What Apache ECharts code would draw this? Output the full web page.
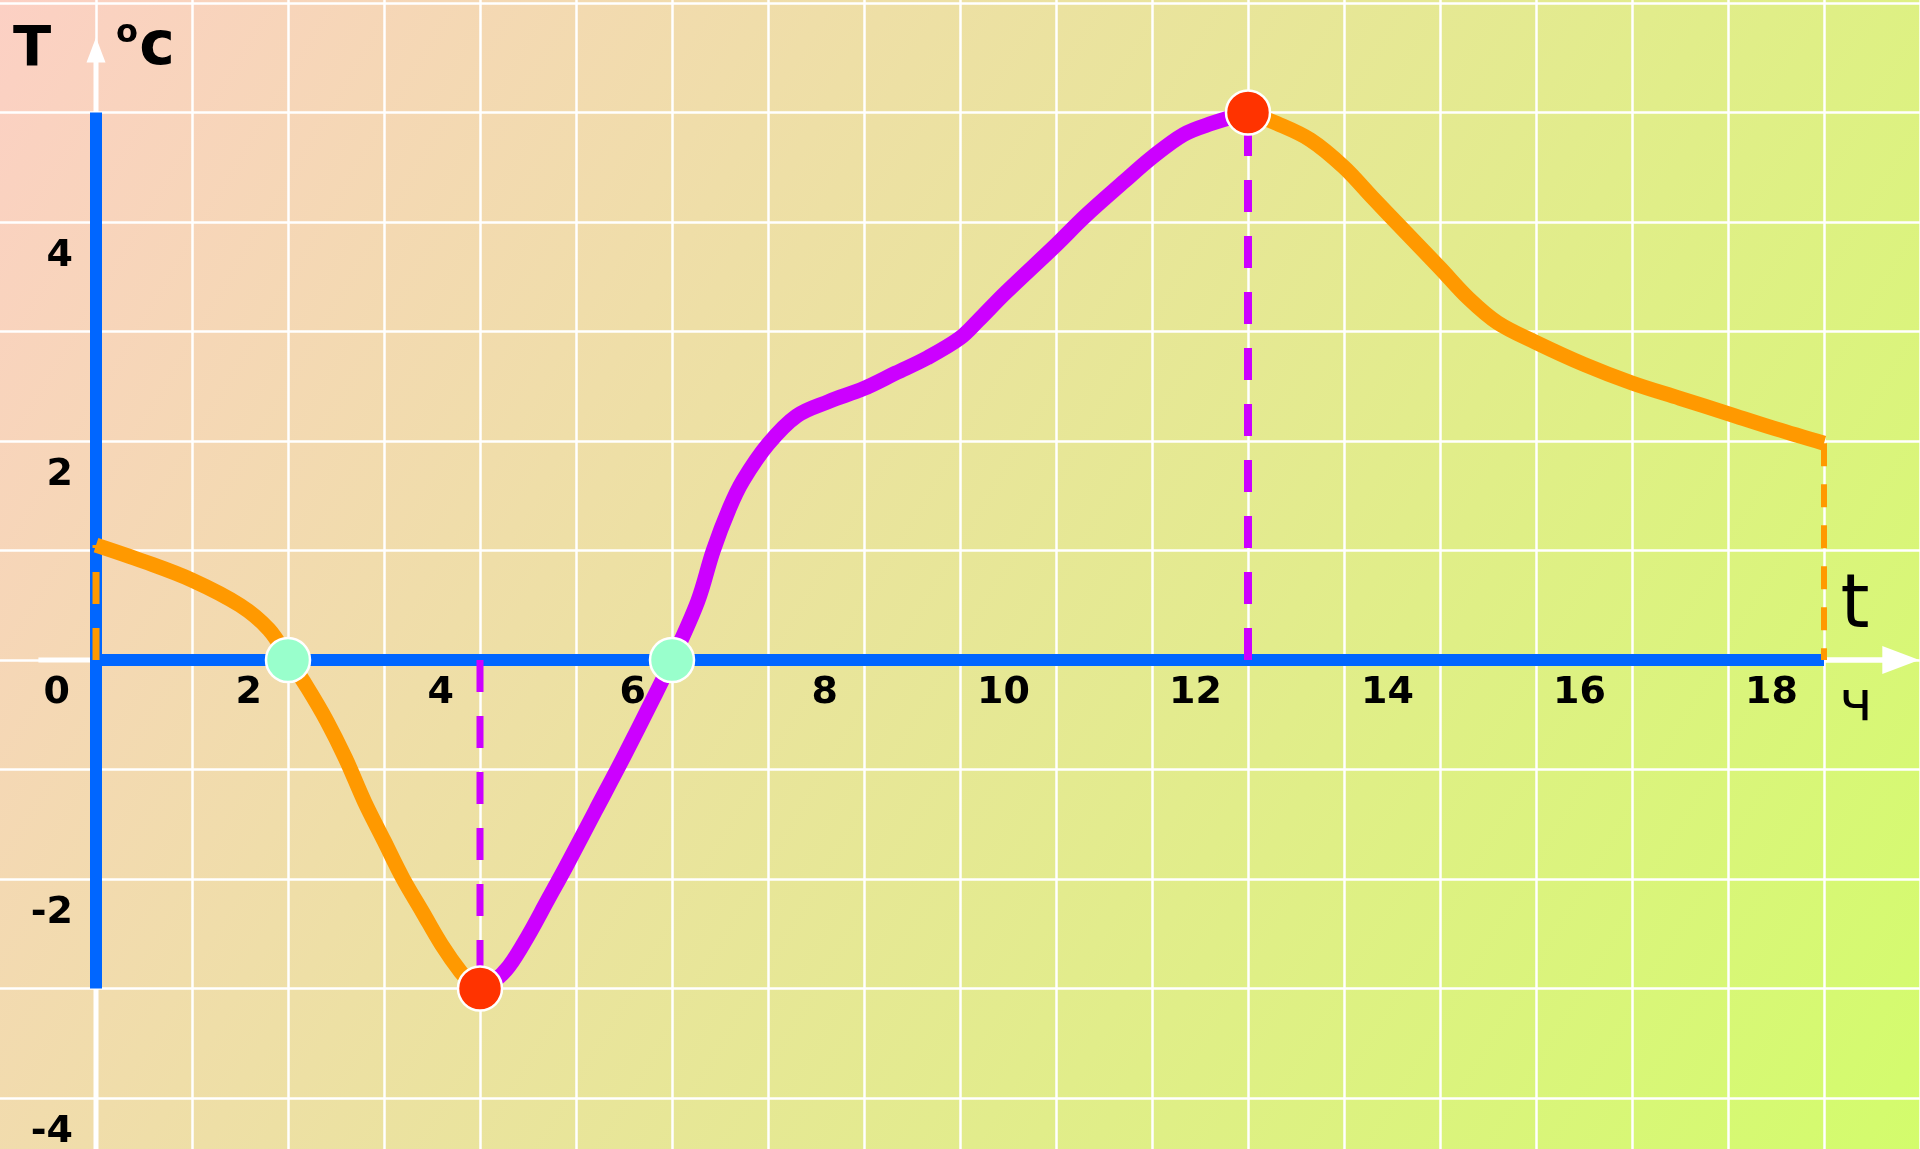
<!DOCTYPE html>
<html>
<head>
<meta charset="utf-8">
<title>Температура</title>
<script src="https://cdn.jsdelivr.net/npm/echarts@6/dist/echarts.min.js"></script>
<style>
    html, body { margin: 0; padding: 0; }
    #grafica { width: 1920px; height: 1149px; }
</style>
</head>
<body>
<div id="grafica"></div>
<script>
// Datos: t en horas, T en grados
var tramoBajada = [[0, 1.05], [0.5, 0.9], [1, 0.73], [1.5, 0.5], [1.8, 0.28], [2, 0.02], [2.2, -0.25],
    [2.4, -0.55], [2.6, -0.9], [2.8, -1.3], [3, -1.65], [3.2, -2.0], [3.4, -2.3], [3.6, -2.6],
    [3.8, -2.85], [3.92, -2.96], [4, -3]];
var tramoSubida = [[4, -3], [4.15, -2.93], [4.3, -2.8], [4.5, -2.52], [4.7, -2.2], [4.9, -1.88],
    [5.2, -1.38], [5.5, -0.88], [5.8, -0.36], [6, 0], [6.27, 0.54], [6.43, 1.0], [6.6, 1.39],
    [6.74, 1.64], [7, 1.97], [7.3, 2.23], [7.63, 2.36], [8, 2.48], [8.33, 2.62], [8.66, 2.76],
    [9, 2.94], [9.19, 3.1], [9.47, 3.35], [10, 3.79], [10.3, 4.05], [10.71, 4.37], [11, 4.59],
    [11.33, 4.8], [11.62, 4.9], [12, 5]];
var tramoFinal = [[12, 5], [12.3, 4.9], [12.65, 4.75], [13, 4.5], [13.3, 4.22], [13.65, 3.9],
    [14, 3.58], [14.3, 3.3], [14.6, 3.08], [15, 2.9], [15.5, 2.7], [16, 2.53], [16.5, 2.39],
    [17, 2.25], [17.5, 2.11], [18, 1.98]];

var puntosCero = [[2, 0], [6, 0]];
var puntosExtremos = [[4, -3], [12, 5]];

// lineas de referencia punteadas
var guiaInicio = [[0, 0], [0, 1.05]];
var guiaMinimo = [[4, 0], [4, -3]];
var guiaMaximo = [[12, 0], [12, 5]];
var guiaFin = [[18, 1.98], [18, 0]];

// ejes dibujados
var ejeT = [[0, 5], [0, -3]];
var ejeHoras = [[0, 0], [18, 0]];
var ejeTBlanco = [[0, -5], [0, 5.57]];
var ejeHorasBlanco = [[-0.6, 0], [18.8, 0]];

var etiquetasX = ['0', '2', '4', '6', '8', '10', '12', '14', '16', '18'];
var etiquetasY = ['4', '2', '-2', '-4'];

var fuenteNumeros = "DejaVu Sans";

function linea(datos, color, ancho, tipo, z) {
    return {
        type: 'line',
        data: datos,
        symbol: 'none',
        silent: true,
        z: z,
        lineStyle: { color: color, width: ancho, type: tipo || 'solid', cap: 'butt' }
    };
}

function curva(datos, color) {
    return {
        type: 'line',
        data: datos,
        symbol: 'none',
        smooth: 0.35,
        silent: true,
        z: 6,
        lineStyle: { color: color, width: 15, cap: 'butt', join: 'round' }
    };
}

function puntos(datos, color) {
    return {
        type: 'scatter',
        data: datos,
        symbol: 'circle',
        symbolSize: 44,
        silent: true,
        z: 8,
        itemStyle: { color: color, borderColor: '#ffffff', borderWidth: 2.5, opacity: 1 }
    };
}

// flecha blanca al final de un eje
function flecha(datos, tam, rot) {
    var serie = linea(datos, '#ffffff', 5, 'solid', 2);
    serie.data = [
        { value: datos[0], symbol: 'none' },
        { value: datos[1], symbol: 'triangle', symbolSize: tam, symbolRotate: rot }
    ];
    serie.symbol = 'triangle';
    serie.itemStyle = { color: '#ffffff' };
    return serie;
}

function etiquetas(lista, extra) {
    var base = {
        show: true, fontSize: 38, fontWeight: 'bold', color: '#000', fontFamily: fuenteNumeros,
        formatter: function (v) {
            var s = String(Math.round(v));
            return lista.indexOf(s) >= 0 ? s : '';
        }
    };
    Object.keys(extra).forEach(function (k) { base[k] = extra[k]; });
    return base;
}

var chart = echarts.init(document.getElementById('grafica'));

var sinEje = { show: false, onZero: false };

var option = {
    animation: false,
    backgroundColor: {
        type: 'linear', x: 0, y: 0, x2: 1, y2: 1,
        colorStops: [{ offset: 0, color: '#fcd0c4' }, { offset: 1, color: '#d3fc6c' }]
    },
    grid: [
        // cuadricula principal (sale un poco del lienzo para que las lineas lleguen al borde)
        { left: 0, right: 0, top: -106.5, bottom: -58.5, containLabel: false, outerBoundsMode: 'none' },
        // borde inferior sobre T = 0: etiquetas de horas
        { left: 0, right: 0, top: 3, bottom: 489, containLabel: false, outerBoundsMode: 'none' },
        // borde izquierdo sobre t = 0: etiquetas de temperatura, algo mas abajo que su linea
        { left: 96, right: 0, top: 37, bottom: 17, containLabel: false, outerBoundsMode: 'none' }
    ],
    xAxis: [
        {
            gridIndex: 0, type: 'value', min: -1, max: 19, interval: 1,
            axisLine: sinEje, axisTick: { show: false }, axisLabel: { show: false },
            splitLine: { show: true, showMinLine: false, lineStyle: { color: '#ffffff', width: 2.5 } }
        },
        {
            gridIndex: 1, type: 'value', min: -1, max: 19, interval: 1, position: 'bottom',
            axisLine: sinEje, axisTick: { show: false }, splitLine: { show: false },
            axisLabel: etiquetas(etiquetasX, { margin: 14, align: 'right', padding: [0, 26, 0, 0] })
        },
        {
            gridIndex: 2, type: 'value', min: 0, max: 19, interval: 1,
            axisLine: sinEje, axisTick: { show: false }, axisLabel: { show: false }, splitLine: { show: false }
        }
    ],
    yAxis: [
        {
            gridIndex: 0, type: 'value', min: -5, max: 7, interval: 1,
            axisLine: sinEje, axisTick: { show: false }, axisLabel: { show: false },
            splitLine: { show: true, lineStyle: { color: '#ffffff', width: 2.5 } }
        },
        {
            gridIndex: 1, type: 'value', min: 0, max: 6, interval: 1,
            axisLine: sinEje, axisTick: { show: false }, axisLabel: { show: false }, splitLine: { show: false }
        },
        {
            gridIndex: 2, type: 'value', min: -4, max: 6, interval: 1, position: 'left',
            axisLine: sinEje, axisTick: { show: false }, splitLine: { show: false },
            axisLabel: etiquetas(etiquetasY, { margin: 23, align: 'right' })
        }
    ],
    graphic: [
        { type: 'text', x: 32, y: 50, style: { text: 'T', font: "bold 56px 'DejaVu Sans'", fill: '#000', align: 'center', textAlign: 'center', verticalAlign: 'middle', textVerticalAlign: 'middle' } },
        { type: 'text', x: 127, y: 34, style: { text: 'o', font: "bold 32px 'DejaVu Sans'", fill: '#000', align: 'center', textAlign: 'center', verticalAlign: 'middle', textVerticalAlign: 'middle' } },
        { type: 'text', x: 157, y: 48, style: { text: 'c', font: "bold 60px 'DejaVu Sans'", fill: '#000', align: 'center', textAlign: 'center', verticalAlign: 'middle', textVerticalAlign: 'middle' } },
        { type: 'text', x: 1855, y: 608, style: { text: 't', font: "74px 'DejaVu Sans'", fill: '#000', align: 'center', textAlign: 'center', verticalAlign: 'middle', textVerticalAlign: 'middle' } },
        { type: 'text', x: 1856, y: 705, style: { text: 'ч', font: "56px 'DejaVu Sans'", fill: '#000', align: 'center', textAlign: 'center', verticalAlign: 'middle', textVerticalAlign: 'middle' } }
    ],
    series: [
        linea(ejeTBlanco, '#ffffff', 5, 'solid', 2),
        linea(ejeHorasBlanco, '#ffffff', 5, 'solid', 2),
        flecha([ejeTBlanco[1], [0, 5.57]], [19, 25], 0),
        flecha([[18, 0], ejeHorasBlanco[1]], [28, 37], -90),
        linea(ejeT, '#0066ff', 12, 'solid', 3),
        linea(ejeHoras, '#0066ff', 12, 'solid', 3),
        linea(guiaInicio, '#ff9900', 7, [32, 24], 4),
        linea(guiaFin, '#ff9900', 6, [23, 18], 4),
        linea(guiaMinimo, '#cc00ff', 7, [32, 24], 4),
        linea(guiaMaximo, '#cc00ff', 8, [32, 24], 4),
        curva(tramoBajada, '#ff9900'),
        curva(tramoSubida, '#cc00ff'),
        curva(tramoFinal, '#ff9900'),
        puntos(puntosCero, '#99ffcc'),
        puntos(puntosExtremos, '#ff3300')
    ]
};

chart.setOption(option);
</script>
</body>
</html>
